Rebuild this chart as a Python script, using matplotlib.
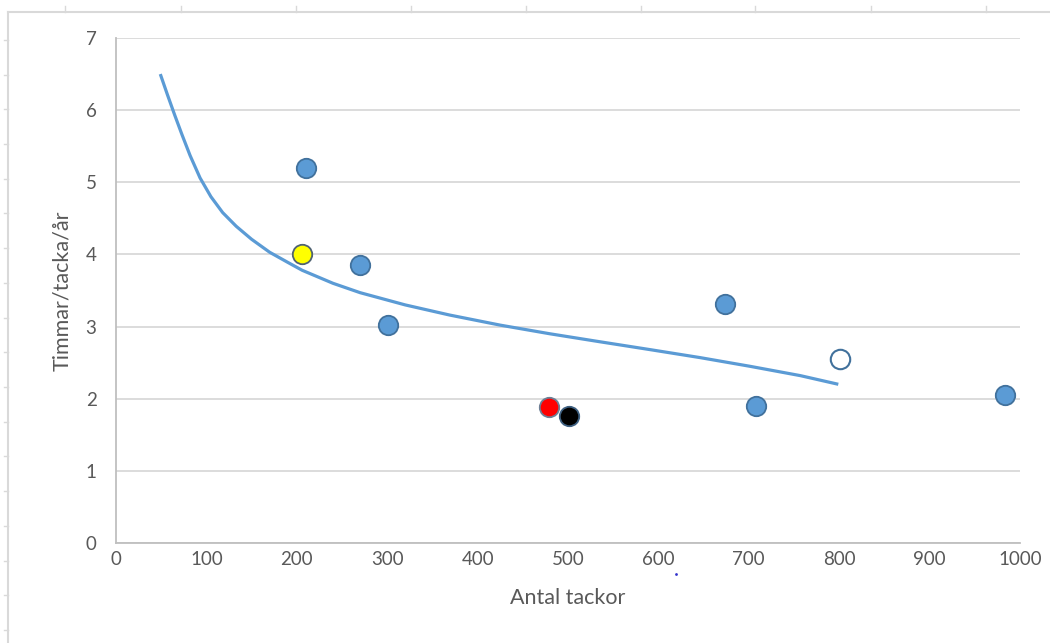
import matplotlib
matplotlib.use("Agg")
import matplotlib.pyplot as plt
from matplotlib.lines import Line2D

# data points (Antal tackor, Timmar/tacka/år)
blue_x = [210, 270, 301, 674, 708, 983]
blue_y = [5.2, 3.85, 3.02, 3.31, 1.90, 2.05]
yellow_pt = (206, 4.01)
red_pt = (479, 1.89)
black_pt = (501, 1.76)
white_pt = (801, 2.55)

# trend curve
curve_x = [49, 57, 65, 73, 82, 93, 105, 118, 133, 150, 170, 190, 206, 240, 270,
           320, 369, 425, 480, 535, 591, 646, 701, 757, 799]
curve_y = [6.50, 6.21, 5.93, 5.66, 5.37, 5.06, 4.80, 4.58, 4.39, 4.21, 4.03, 3.89,
           3.78, 3.60, 3.47, 3.30, 3.16, 3.02, 2.90, 2.79, 2.68, 2.57, 2.45, 2.32, 2.20]

x_ticks = [0, 100, 200, 300, 400, 500, 600, 700, 800, 900, 1000]
y_ticks = [0, 1, 2, 3, 4, 5, 6, 7]

W, H = 1050, 643
fig = plt.figure(figsize=(W / 100, H / 100), dpi=100)
fig.patch.set_facecolor("white")
ax = fig.add_axes([116 / W, 1 - 543 / H, (1020 - 116) / W, (543 - 38) / H])

blue = "#5B9BD5"
edge = "#41719C"

ax.plot(curve_x, curve_y, color=blue, linewidth=2.3, solid_capstyle="butt",
        solid_joinstyle="round", zorder=3)

ms = 14
ax.plot(blue_x, blue_y, "o", ms=ms, mfc=blue, mec=edge, mew=1.3, zorder=4)
ax.plot(*yellow_pt, "o", ms=ms, mfc="#FFFF00", mec="#4F6272", mew=1.3, zorder=4)
ax.plot(*red_pt, "o", ms=ms, mfc="#FF0000", mec="#6D7F95", mew=1.3, zorder=4)
ax.plot(*black_pt, "o", ms=ms, mfc="#000000", mec="#3D5F80", mew=1.3, zorder=5)
ax.plot(*white_pt, "o", ms=ms, mfc="white", mec=edge, mew=1.5, zorder=4)

ax.set_xlim(0, 1000)
ax.set_ylim(0, 7)
ax.set_xticks(x_ticks)
ax.set_yticks(y_ticks)
ax.grid(axis="y", color="#D9D9D9", linewidth=1.3)
ax.set_axisbelow(True)
for s in ["top", "right"]:
    ax.spines[s].set_visible(False)
for s in ["left", "bottom"]:
    ax.spines[s].set_color("#BFBFBF")
    ax.spines[s].set_linewidth(1.3)
ax.tick_params(length=0, labelsize=13.5, labelcolor="#595959")
ax.tick_params(axis="y", pad=14)
ax.tick_params(axis="x", pad=6)
for lab in ax.get_xticklabels() + ax.get_yticklabels():
    lab.set_family("Lato")

ax.set_xlabel("Antal tackor", fontsize=15.5, color="#595959", family="Lato", labelpad=14)
ax.set_ylabel("Timmar/tacka/år", fontsize=15.5, color="#595959", family="Lato", labelpad=10)

# faint page frame from the screenshot
frame = "#D9D9D9"
fig.add_artist(Line2D([8 / W, 1], [1 - 12 / H, 1 - 12 / H], color=frame, lw=1.5, transform=fig.transFigure))
fig.add_artist(Line2D([8 / W, 8 / W], [0, 1 - 12 / H], color=frame, lw=1.5, transform=fig.transFigure))
for px in [65, 181, 296, 411, 526, 641, 755, 871, 986]:
    fig.add_artist(Line2D([px / W, px / W], [1 - 6 / H, 1 - 12 / H], color=frame, lw=1, transform=fig.transFigure))
py = 40
while py < H:
    fig.add_artist(Line2D([4 / W, 8 / W], [1 - py / H, 1 - py / H], color=frame, lw=1, transform=fig.transFigure))
    py += 34.7

# stray dot next to the 600 label
fig.add_artist(Line2D([676 / W], [1 - 574 / H], marker="o", ms=2, color="#3333CC", mew=0, transform=fig.transFigure))

fig.savefig("out.png", dpi=100)
